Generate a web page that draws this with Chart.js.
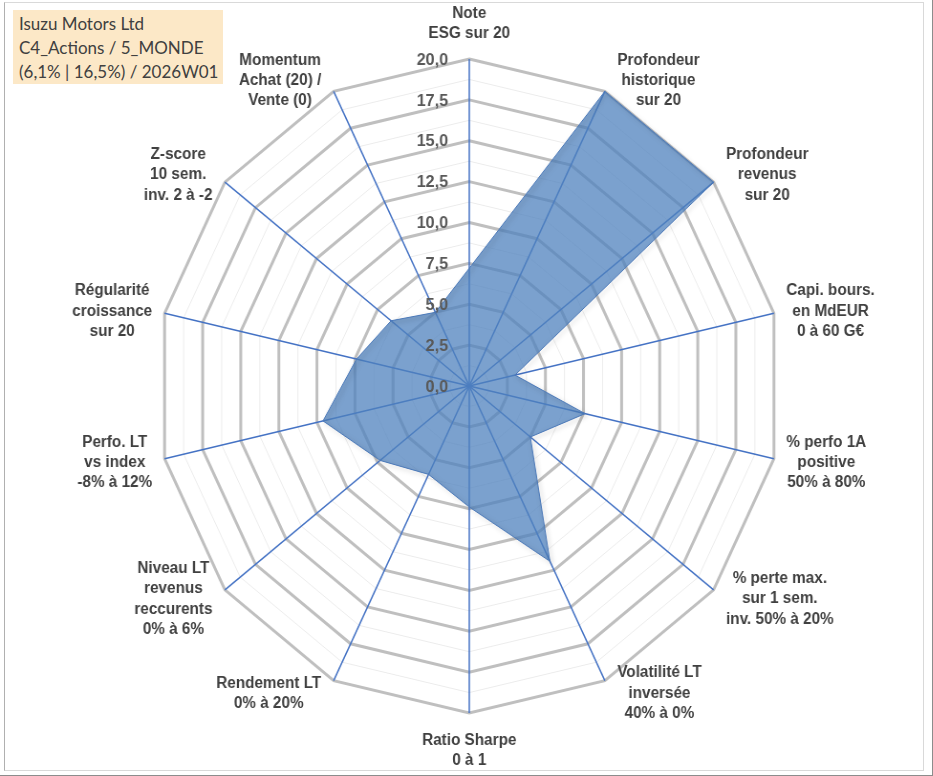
<!DOCTYPE html>
<html lang="fr">
<head>
<meta charset="utf-8">
<title>Isuzu Motors Ltd - radar</title>
<script src="https://cdn.jsdelivr.net/npm/chart.js@4.4.1/dist/chart.umd.min.js"></script>
<style>
  html, body { margin: 0; padding: 0; background: #fff; }
  #frame {
    position: relative; width: 932px; height: 775px;
    border-right: 1px solid #8c8c8c; border-bottom: 1px solid #8c8c8c;
    overflow: hidden;
  }
  #inner {
    position: absolute; left: 4px; top: 2px; width: 918px; height: 767px;
    border: 1px solid #d9d9d9; border-left-color: #b0b0b0;
  }
  /* the reference is squeezed horizontally, so the chart is drawn wider and scaled back */
  #stretch {
    position: absolute; left: 0; top: 0; width: 976px; height: 776px;
    transform: scaleX(0.9557); transform-origin: 0 0;
  }
  #title {
    position: absolute; left: 13px; top: 10px; width: 204px; height: 72px;
    padding: 2px 0 0 6px; background: #fce8c7; color: #404040;
    font-family: Lato, "Open Sans", sans-serif; font-size: 17px; line-height: 24px;
    white-space: nowrap;
  }
</style>
</head>
<body>
<div id="frame">
  <div id="inner"></div>
  <div id="stretch"><canvas id="radar"></canvas></div>
  <div id="title">Isuzu Motors Ltd<br>C4_Actions / 5_MONDE<br>(6,1% | 16,5%) / 2026W01</div>
</div>
<script>
"use strict";

// axis names, one array of lines per axis (clockwise from the top)
var axisLabels = [
  ['Note', 'ESG sur 20'],
  ['Profondeur', 'historique', 'sur 20'],
  ['Profondeur', 'revenus', 'sur 20'],
  ['Capi. bours.', 'en MdEUR', '0 à 60 G€'],
  ['% perfo 1A', 'positive', '50% à 80%'],
  ['% perte max.', 'sur 1 sem.', 'inv. 50% à 20%'],
  ['Volatilité LT', 'inversée', '40% à 0%'],
  ['Ratio Sharpe', '0 à 1'],
  ['Rendement LT', '0% à 20%'],
  ['Niveau LT', 'revenus', 'reccurents', '0% à 6%'],
  ['Perfo. LT', 'vs index', '-8% à 12%'],
  ['Régularité', 'croissance', 'sur 20'],
  ['Z-score', '10 sem.', 'inv. 2 à -2'],
  ['Momentum', 'Achat (20) /', 'Vente (0)']
];

// scores on 20
var scores = [7.2, 20, 20, 3.0, 7.6, 5.0, 11.9, 7.4, 6.0, 7.3, 9.6, 7.4, 6.4, 5.0];

var scaleMin = 0;
var scaleMax = 20;
var minorStep = 1.25;
var majorStep = 2.5;

function isMajor(v) {
  var q = v / majorStep;
  return Math.abs(q - Math.round(q)) < 1e-6;
}

var LABEL_FONT = 'bold 16px "Liberation Sans", Arial, sans-serif';
var TICK_FONT = 'bold 17px "Liberation Sans", Arial, sans-serif';

// tick values on the vertical axis, drawn right-aligned left of it
var tickLabelsPlugin = {
  id: 'tickLabels',
  afterDatasetsDraw: function(chart) {
    var scale = chart.scales.r;
    var ctx = chart.ctx;
    ctx.save();
    ctx.font = TICK_FONT;
    ctx.fillStyle = '#595959';
    ctx.textAlign = 'right';
    ctx.textBaseline = 'middle';
    scale.ticks.forEach(function(tick) {
      if (!isMajor(tick.value)) return;
      var y = scale.yCenter - scale.getDistanceFromCenterForValue(tick.value);
      ctx.fillText(tick.value.toFixed(1).replace('.', ','), scale.xCenter - 22, y + 1);
    });
    ctx.restore();
  }
};

// axis names placed beside each outer vertex, lines centred (Excel style)
var axisNamesPlugin = {
  id: 'axisNames',
  afterDraw: function(chart) {
    var scale = chart.scales.r;
    var ctx = chart.ctx;
    var lineH = 20.3;
    ctx.save();
    ctx.font = LABEL_FONT;
    ctx.fillStyle = '#404040';
    ctx.textAlign = 'center';
    ctx.textBaseline = 'middle';
    axisLabels.forEach(function(lines, i) {
      var angle = scale.getIndexAngle(i);
      var s = Math.sin(angle), c = Math.cos(angle);
      var p = scale.getPointPosition(i, scale.drawingArea);
      var w = 0;
      lines.forEach(function(l) { w = Math.max(w, ctx.measureText(l).width); });
      var h = lines.length * lineH;
      var cx, cy;
      if (Math.abs(s) < 0.01) {
        cx = p.x;
        cy = c > 0 ? p.y - 16 - h / 2 : p.y + 16 + h / 2;
      } else {
        cx = p.x + (s > 0 ? 1 : -1) * (13 + w / 2);
        cy = p.y - c * 13;
      }
      lines.forEach(function(l, k) {
        ctx.fillText(l, cx, cy - h / 2 + lineH * (k + 0.5) + 1);
      });
    });
    ctx.restore();
  }
};

var shadowPlugin = {
  id: 'seriesShadow',
  beforeDatasetDraw: function(chart) {
    var ctx = chart.ctx;
    ctx.save();
    ctx.shadowColor = 'rgba(0,0,0,0.35)';
    ctx.shadowBlur = 5;
    ctx.shadowOffsetX = 2;
    ctx.shadowOffsetY = 2;
  },
  afterDatasetDraw: function(chart) {
    chart.ctx.restore();
  }
};

new Chart(document.getElementById('radar'), {
  type: 'radar',
  data: {
    labels: axisLabels,
    datasets: [{
      label: 'Isuzu Motors Ltd',
      data: scores,
      fill: true,
      backgroundColor: 'rgba(79,129,189,0.75)',
      borderColor: '#4a78b8',
      borderWidth: 1,
      pointRadius: 0,
      pointHoverRadius: 0
    }]
  },
  options: {
    responsive: true,
    maintainAspectRatio: false,
    animation: false,
    layout: { padding: { left: 164, right: 158, top: 59, bottom: 63 } },
    plugins: {
      legend: { display: false },
      title: { display: false },
      tooltip: { enabled: false }
    },
    scales: {
      r: {
        min: scaleMin,
        max: scaleMax,
        ticks: { stepSize: minorStep, display: false },
        pointLabels: { display: false },
        angleLines: { color: '#4472c4', lineWidth: 1.5 },
        grid: {
          color: function(ctx) {
            return ctx.tick && isMajor(ctx.tick.value) ? '#bfbfbf' : '#ececec';
          },
          lineWidth: function(ctx) {
            return ctx.tick && isMajor(ctx.tick.value) ? 3 : 1;
          }
        }
      }
    }
  },
  plugins: [shadowPlugin, tickLabelsPlugin, axisNamesPlugin]
});
</script>
</body>
</html>
